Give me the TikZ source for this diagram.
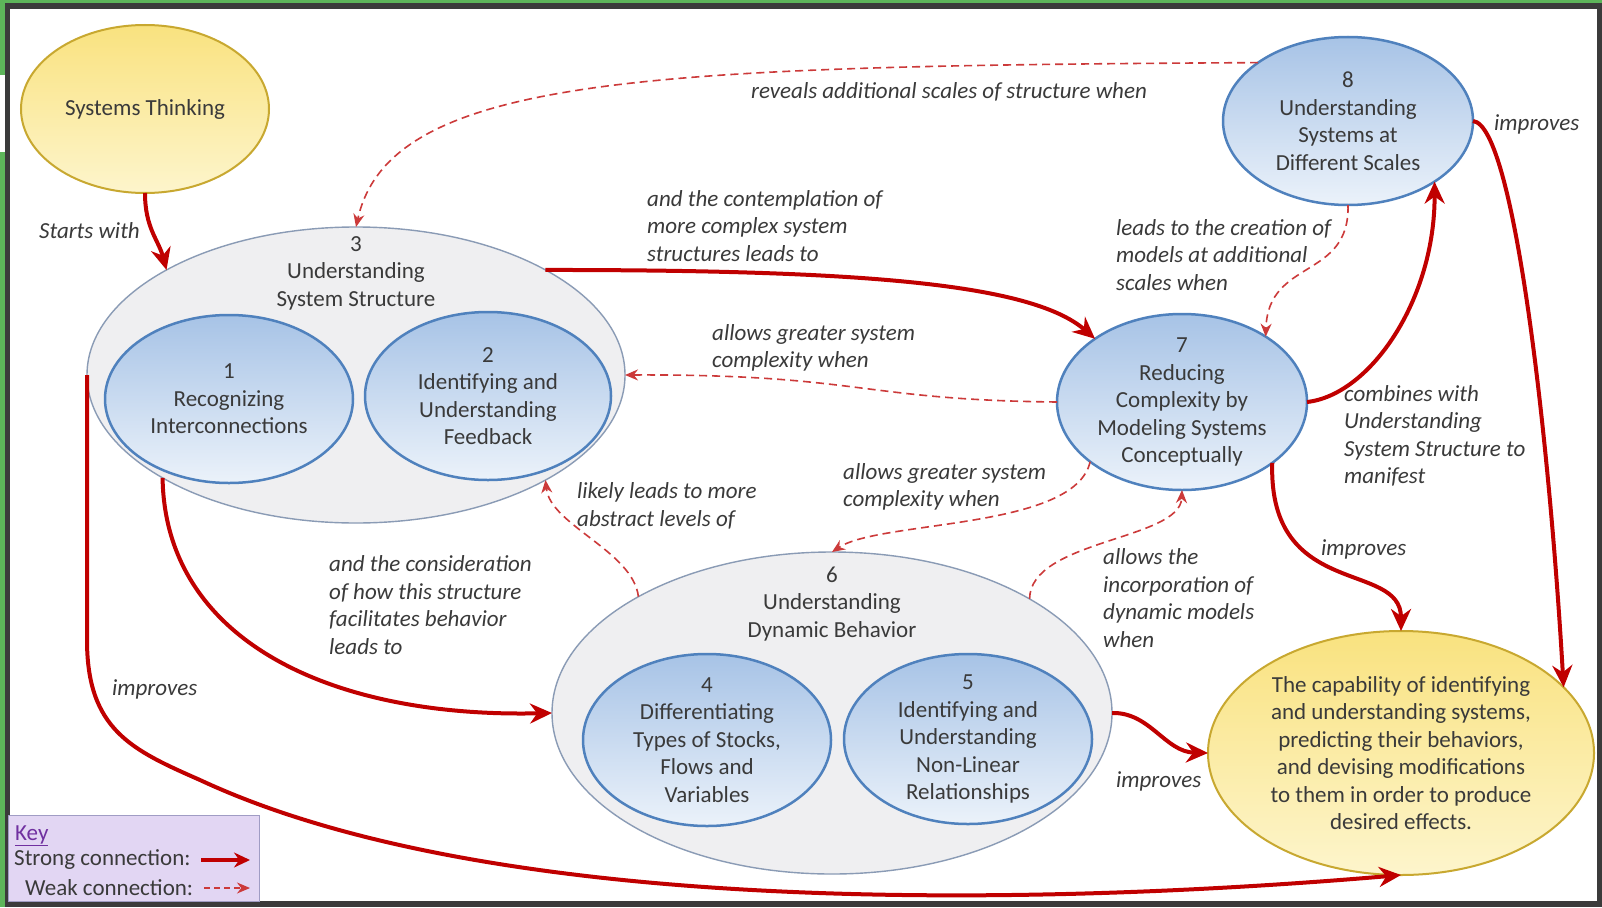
\documentclass[tikz,border=0pt]{standalone}
\usepackage{fontspec}
\setmainfont{Carlito}
\usepackage{tikz}
\usetikzlibrary{shapes.geometric}
\usetikzlibrary{arrows.meta}
\definecolor{inkgray}{HTML}{3A3A3A}
\definecolor{linkred}{HTML}{C00000}
\definecolor{hintred}{HTML}{CC3A3A}
\definecolor{bluerim}{HTML}{4F81BD}
\definecolor{bluetop}{HTML}{A7C3E6}
\definecolor{bluebot}{HTML}{EBF2FA}
\definecolor{grayrim}{HTML}{8A9BB5}
\definecolor{grayfill}{HTML}{EFEFF1}
\definecolor{goldrim}{HTML}{C8A830}
\definecolor{goldtop}{HTML}{F9E27F}
\definecolor{goldbot}{HTML}{FDF5CC}
\definecolor{keyfill}{HTML}{E2D6F3}
\definecolor{keyrim}{HTML}{A09CC4}
\definecolor{keyhead}{HTML}{7030A0}
\definecolor{framegreen}{HTML}{5DB55A}
\definecolor{framedark}{HTML}{3B3B3B}
\tikzstyle{bubble}=[ellipse, draw=bluerim, line width=2.5pt, top color=bluetop, bottom color=bluebot, inner sep=0, outer sep=0]
\tikzstyle{cluster}=[ellipse, draw=grayrim, line width=1.4pt, fill=grayfill, inner sep=0, outer sep=0]
\tikzstyle{outcome}=[ellipse, draw=goldrim, line width=2pt, top color=goldtop, bottom color=goldbot, inner sep=0, outer sep=0]
\tikzstyle{caption}=[align=center, inner sep=0]
\tikzstyle{remark}=[font=\fontsize{23}{27.5}\selectfont\itshape, align=left, anchor=west, inner sep=0]
\tikzstyle{strong}=[draw=linkred, line width=4pt, -{Stealth[length=22pt, width=20pt]}]
\tikzstyle{weak}=[draw=hintred, line width=1.6pt, dash pattern=on 8pt off 5pt, -{Stealth[length=13pt, width=11pt]}]
\tikzstyle{conceptmap}=[x=1pt, y=-1pt,
                        % one unit is one pixel of the original, y runs down
                        every node/.style={font=\fontsize{23}{27.5}\selectfont, text=inkgray}]

\begin{document}
\begin{tikzpicture}[conceptmap]
        \useasboundingbox (0,0) rectangle (1602,907);
        % frame
        \fill[framedark] (0,0) rectangle (1602,907);
        \fill[framegreen] (0,0) rectangle (1602,3.5);
        \fill[framegreen] (0,0) rectangle (4.5,907);
        \fill[white] (0,75) rectangle (4.5,152);
        \fill[white] (10,9) rectangle (1597,901);
        % ellipses
        \node[outcome, minimum width=248pt, minimum height=168pt] (ST) at (145,109) {Systems Thinking};
        \node[cluster, minimum width=538pt, minimum height=296pt] (E3) at (356,375) {};
        \node[caption]                                            (T3) at (356,273) {3\\Understanding\\System Structure};
        \node[bubble, minimum width=248pt, minimum height=168pt,
              label={[caption]center:{1\\Recognizing\\Interconnections}}]                 (E1) at (229,399) {};
        \node[bubble, minimum width=246pt, minimum height=168pt,
              label={[caption]center:{2\\Identifying and\\Understanding\\Feedback}}]      (E2) at (488,396) {};
        \node[cluster, minimum width=560pt, minimum height=322pt] (E6) at (832,713) {};
        \node[caption]                                            (T6) at (832,604) {6\\Understanding\\Dynamic Behavior};
        \node[bubble, minimum width=248pt, minimum height=172pt,
              label={[caption]center:{4\\Differentiating\\Types of Stocks,\\Flows and\\Variables}}] (E4) at (707,740) {};
        \node[bubble, minimum width=248pt, minimum height=170pt,
              label={[caption]center:{5\\Identifying and\\Understanding\\Non-Linear\\Relationships}}] (E5) at (968,739) {};
        \node[bubble, minimum width=250pt, minimum height=176pt,
              label={[caption]center:{7\\Reducing\\Complexity by\\Modeling Systems\\Conceptually}}] (E7) at (1182,402) {};
        \node[bubble, minimum width=250pt, minimum height=168pt,
              label={[caption]center:{8\\Understanding\\Systems at\\Different Scales}}] (E8) at (1348,121) {};
        \node[outcome, minimum width=386pt, minimum height=244pt,
              label={[caption]center:{The capability of identifying\\and understanding systems,\\predicting their behaviors,\\and devising modifications\\to them in order to produce\\desired effects.}}] (GO) at (1401,753) {};
        % strong links
        \draw[strong] (ST.south) .. controls +(0,35) and +(-8,-30) .. (E3.151);
        \draw[strong] (E3.29) .. controls (850,270) and (1030,282) .. (E7.144);
        \draw[strong] (E3.208) .. controls (165,640) and (330,718) .. (E6.west);
        \draw[strong] (E3.west) -- (87,640) .. controls (87,730) and (132,750) .. (200,780) .. controls (500,920) and (1050,905) .. (GO.south);
        \draw[strong] (E7.east) .. controls (1370,395) and (1435,300) .. (E8.-35);
        \draw[strong] (E7.-34) .. controls (1268,600) and (1401,560) .. (GO.north);
        \draw[strong] (E8.east) .. controls (1515,125) and (1550,450) .. (GO.22);
        \draw[strong] (E6.east) .. controls (1150,712) and (1165,752) .. (GO.west);
        % weak links
        \draw[weak] (E8.147) .. controls (650,66) and (390,75) .. (E3.north);
        \draw[weak] (E7.west) .. controls (860,400) and (860,374) .. (E3.east);
        \draw[weak] (E8.south) .. controls (1350,280) and (1268,258) .. (E7.38);
        \draw[weak] (E6.149) .. controls (633,551) and (550,525) .. (E3.-29);
        \draw[weak] (E7.213) .. controls (1075,530) and (880,520) .. (E6.north);
        \draw[weak] (E6.30) .. controls (1030,540) and (1180,540) .. (E7.south);
        % link texts
        \node[remark] (R1)  at (39,231)   {Starts with};
        \node[remark] (R2)  at (751,92)   {reveals additional scales of structure when};
        \node[remark] (R3)  at (1494,124) {improves};
        \node[remark] (R4)  at (647,226)  {and the contemplation of\\more complex system\\structures leads to};
        \node[remark] (R5)  at (1116,255) {leads to the creation of\\models at additional\\scales when};
        \node[remark] (R6)  at (712,348)  {allows greater system\\complexity when};
        \node[remark] (R7)  at (1344,436) {combines with\\Understanding\\System Structure to\\manifest};
        \node[remark] (R8)  at (843,487)  {allows greater system\\complexity when};
        \node[remark] (R9)  at (577,506)  {likely leads to more\\abstract levels of};
        \node[remark] (R10) at (329,605)  {and the consideration\\of how this structure\\facilitates behavior\\leads to};
        \node[remark] (R11) at (1103,598) {allows the\\incorporation of\\dynamic models\\when};
        \node[remark] (R12) at (1321,549) {improves};
        \node[remark] (R13) at (112,689)  {improves};
        \node[remark] (R14) at (1116,781) {improves};
        % key
        \draw[keyrim, fill=keyfill, line width=1pt] (8,815) rectangle (259,901);
        \node[anchor=west, inner sep=0, text=keyhead] (KT) at (15,836) {\underline{Key}};
        \node[anchor=west, inner sep=0] (KS) at (14,860) {Strong connection:};
        \node[anchor=west, inner sep=0] (KW) at (25,888) {Weak connection:};
        \coordinate (ks0) at (201,860);
        \coordinate (ks1) at (250,860);
        \coordinate (kw0) at (204,888);
        \coordinate (kw1) at (250,888);
        \draw[strong, -{Stealth[length=16pt, width=15pt]}] (ks0) -- (ks1);
        \draw[weak, dash pattern=on 6pt off 4pt] (kw0) -- (kw1);
\end{tikzpicture}
\end{document}
